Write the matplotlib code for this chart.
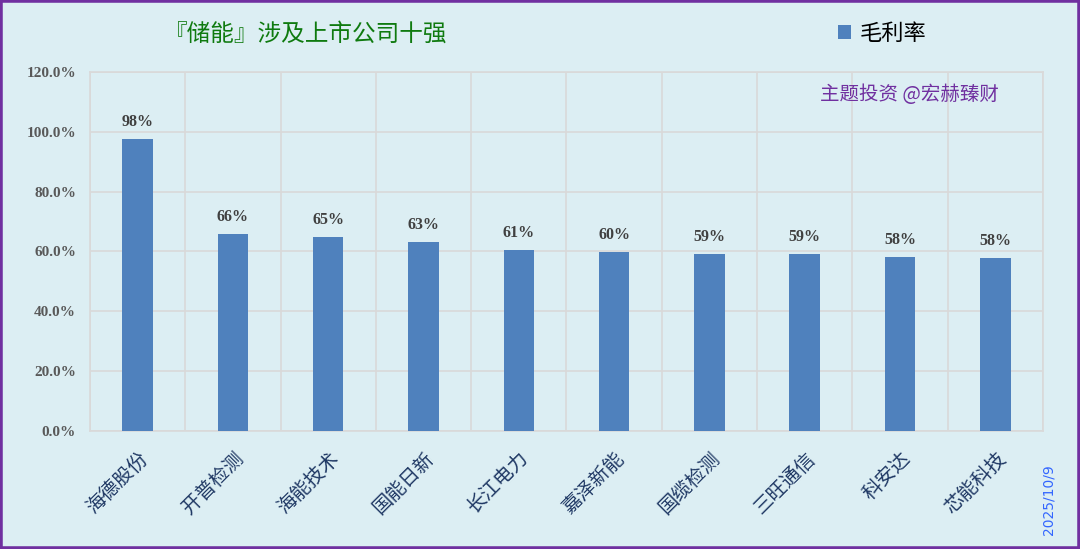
import matplotlib.pyplot as plt
import matplotlib.transforms as mtrans
import numpy as np

companies = ["海德股份", "开普检测", "海能技术", "国能日新", "长江电力",
             "嘉泽新能", "国缆检测", "三旺通信", "科安达", "芯能科技"]
gross_margin = [97.6, 65.9, 64.8, 63.3, 60.6, 59.9, 59.2, 59.1, 58.2, 57.9]
y_ticks = [0, 20, 40, 60, 80, 100, 120]

cjk = ["Noto Sans CJK SC", "DejaVu Sans"]
num_font = "Liberation Serif"
bg = "#DCEEF3"
bar_col = "#4F81BD"
grid_col = "#D9D9D9"

fig = plt.figure(figsize=(10.8, 5.49), dpi=100, facecolor=bg)
# purple frame round the picture
fig.patches.append(plt.Rectangle((0, 0), 1, 1, transform=fig.transFigure,
                                 fill=False, edgecolor="#7030A0", linewidth=4))
ax = fig.add_axes([0.0833, 0.2149, 0.8824, 0.654])
ax.set_facecolor(bg)

x = np.arange(len(companies))
bars = ax.bar(x, gross_margin, width=0.32, color=bar_col, zorder=3, label="毛利率")

for b, v in zip(bars, gross_margin):
    ax.text(b.get_x() + b.get_width() / 2, v + 3, f"{v:.0f}%", ha="center", va="bottom",
            fontsize=11.5, fontweight="bold", color="#404040", family=num_font)

ax.set_xlim(-0.5, len(companies) - 0.5)
ax.set_ylim(0, 120)
ax.set_yticks(y_ticks)
ax.set_yticklabels([f"{t:.1f}%" for t in y_ticks], family=num_font, fontweight="bold",
                   fontsize=11, color="#595959")
ax.set_xticks(x)
ax.set_xticklabels(companies, rotation=45, ha="right", va="top", rotation_mode="anchor",
                   family=cjk, fontsize=14, color="#1F3864")
shift = mtrans.ScaledTranslation(-8 / 100, 0, fig.dpi_scale_trans)
for lab in ax.get_xticklabels():
    lab.set_transform(lab.get_transform() + shift)
ax.set_xticks(np.arange(len(companies) + 1) - 0.5, minor=True)
ax.tick_params(axis="both", which="both", length=0)
ax.tick_params(axis="x", pad=12)
ax.tick_params(axis="y", pad=10)
ax.grid(axis="y", color=grid_col, linewidth=1.2, zorder=0)
ax.grid(axis="x", which="minor", color=grid_col, linewidth=1.2, zorder=0)
for s in ax.spines.values():
    s.set_color(grid_col)
    s.set_linewidth(1.2)

fig.text(0.283, 0.937, "『储能』涉及上市公司十强", ha="center", va="center",
         family=cjk, fontsize=17, color="#0F7A0F")
ax.legend(loc="center", bbox_to_anchor=(0.817, 0.939), bbox_transform=fig.transFigure,
          frameon=False, prop={"family": cjk, "size": 16}, handlelength=0.6,
          handleheight=0.6, handletextpad=0.4)
fig.text(0.842, 0.828, "主题投资 @宏赫臻财", ha="center", va="center",
         family=cjk, fontsize=14, color="#7030A0")
fig.text(0.9705, 0.09, "2025/10/9", rotation=90, ha="center", va="center",
         fontsize=10, color="#3366FF")

fig.savefig("out.png", dpi=100, facecolor=bg)
